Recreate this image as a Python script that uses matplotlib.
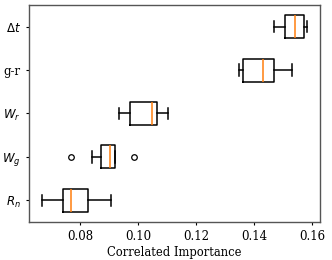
import matplotlib
matplotlib.use('Agg')
import matplotlib.pyplot as plt

# feature labels, bottom to top
labels = [r'$R_n$', r'$W_g$', r'$W_r$', 'g-r', r'$\Delta t$']

# box statistics
whislo = [0.0670, 0.0841, 0.0934, 0.1347, 0.1468]
q1 = [0.0743, 0.0872, 0.0972, 0.1361, 0.1507]
med = [0.0769, 0.0905, 0.1048, 0.1430, 0.1542]
q3 = [0.0827, 0.0920, 0.1066, 0.1470, 0.1573]
whishi = [0.0906, 0.0921, 0.1103, 0.1530, 0.1584]
fliers = [[], [0.0769, 0.0986], [], [], []]

plt.rcParams['font.family'] = 'DejaVu Serif'

fig, ax = plt.subplots(figsize=(3.32, 2.60), dpi=100)

stats = []
for i in range(len(labels)):
    stats.append({'whislo': whislo[i], 'q1': q1[i], 'med': med[i],
                  'q3': q3[i], 'whishi': whishi[i], 'fliers': fliers[i],
                  'label': labels[i]})

ax.bxp(stats, vert=False, widths=0.53,
       flierprops={'markersize': 4, 'markeredgewidth': 0.9},
       boxprops={'linewidth': 1.1}, whiskerprops={'linewidth': 1.1},
       capprops={'linewidth': 1.1}, medianprops={'linewidth': 1.1})

ax.set_xlim(0.0624, 0.1628)
ax.set_xticks([0.08, 0.10, 0.12, 0.14, 0.16])
ax.tick_params(labelsize=8.5, length=2.5)
ax.set_xlabel('Correlated Importance', fontsize=8.3, labelpad=2)
for s in ax.spines.values():
    s.set_color('#555555')
    s.set_linewidth(1.0)

fig.subplots_adjust(left=29/332, right=320/332, top=1-5/260, bottom=1-222/260)
fig.savefig('out.png', dpi=100)
